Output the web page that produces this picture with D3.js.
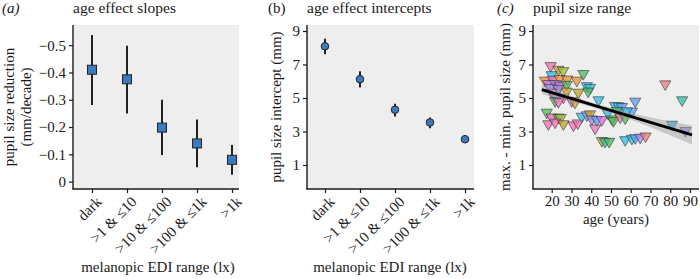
<!DOCTYPE html>
<html><head><meta charset="utf-8">
<script src="https://cdn.jsdelivr.net/npm/d3@7"></script>
<style>
html,body{margin:0;padding:0;background:#fff;}
svg text{font-family:"Liberation Serif","Times New Roman",serif;fill:#1a1a1a;}
</style></head>
<body><svg id="c" width="700" height="279"></svg>
<script>
// ---------- data ----------
const categories = ["dark", ">1 & \u226410", ">10 & \u2264100", ">100 & \u22641k", ">1k"];
const slopeEst = [-0.41, -0.375, -0.198, -0.14, -0.08];
const slopeLo  = [-0.537, -0.498, -0.30, -0.228, -0.134];
const slopeHi  = [-0.281, -0.25, -0.098, -0.053, -0.025];
const slopeTicks = [0, -0.1, -0.2, -0.3, -0.4, -0.5];

const interceptEst = [8.09, 6.12, 4.30, 3.54, 2.54];
const interceptLo  = [7.61, 5.63, 3.90, 3.20, 2.44];
const interceptHi  = [8.54, 6.60, 4.66, 3.84, 2.64];
const mmTicks = [1, 3, 5, 7, 9];

const ageTicks = [20, 30, 40, 50, 60, 70, 80, 90];
const ptAge = [19.5,23.4,25.8,20.0,16.6,20.5,24.0,27.8,32.7,36.0,18.3,21.7,24.2,27.6,19.1,23.4,20.0,21.7,25.9,27.6,33.5,37.8,39.4,38.5,21.7,23.4,30.1,31.8,43.7,52.1,53.8,55.5,62.3,60.6,58.0,53.0,17.5,20.0,23.4,24.5,18.3,21.7,25.9,31.0,33.2,35.2,37.8,39.4,40.3,42.0,42.8,45.4,48.4,50.5,51.3,54.7,57.2,45.4,47.0,49.1,57.2,60.6,62.3,64.8,67.5,77.5,86.0,80.9,87.7];
const ptRange = [6.92,6.70,6.62,6.38,6.05,6.10,6.15,6.12,6.05,6.45,5.85,5.85,5.75,5.80,5.62,5.55,5.33,5.13,5.04,5.40,5.33,5.72,5.62,5.40,4.83,4.78,4.83,4.74,4.88,4.54,4.52,4.48,4.80,4.20,4.22,4.24,4.14,3.85,3.85,3.82,3.45,3.55,3.45,3.38,3.50,3.90,3.98,4.04,3.74,3.20,3.70,3.70,4.10,3.74,3.64,3.85,3.80,2.45,2.40,2.40,2.50,2.58,2.62,2.65,2.72,5.83,4.88,3.42,3.05];
const ptGroup = ["pink","olive","ygreen","cyan","orange","pink","orange","orange","orange","green","magenta","purple","magenta","green","purple","purple","pink","purple","pink","olive","olive","cyan","cyan","green","green","pink","magenta","olive","cyan","cyan","cyan","blue","blue","blue","cyan","green","green","pink","green","ygreen","pink","pink","olive","pink","pink","cyan","purple","olive","purple","pink","blue","magenta","cyan","green","green","pink","green","olive","teal","green","cyan","cyan","blue","purple","red","red","teal","cyan","purple"];
const groupColours = {pink:"#F36FB4", olive:"#C9A227", ygreen:"#A6BE2E", cyan:"#28BDE6", orange:"#E9902F", green:"#4DBA57", magenta:"#DC6BEA", purple:"#9B8CF0", blue:"#5E9BF7", teal:"#2EC4A4", red:"#F07A83"};

const fitAge = [15, 91];
const fitVal = [5.5, 2.8];
const bandAge = [15, 30, 45, 60, 75, 91];
const bandLo  = [5.22, 4.80, 4.30, 3.70, 3.02, 2.22];
const bandHi  = [5.78, 5.14, 4.56, 4.10, 3.72, 3.36];

// ---------- layout ----------
const svg = d3.select("#c");
const topY = 25, bottomY = 189;
const bg = "#EEEEEE";
const ink = "#1a1a1a";
const fs = 15;

function panelBg(x0, x1){
  svg.append("rect").attr("x",x0).attr("y",topY).attr("width",x1-x0).attr("height",bottomY-topY).attr("fill",bg);
}
function axisLines(x0,x1){
  svg.append("line").attr("x1",x0).attr("x2",x0).attr("y1",topY).attr("y2",bottomY+0.5).attr("stroke",ink).attr("stroke-width",1.4);
  svg.append("line").attr("x1",x0-0.5).attr("x2",x1).attr("y1",bottomY).attr("y2",bottomY).attr("stroke",ink).attr("stroke-width",1.4);
}
function yAxis(x0, scale, ticks, fmt){
  const g = svg.append("g").attr("transform",`translate(${x0},0)`)
    .call(d3.axisLeft(scale).tickValues(ticks).tickSize(4).tickPadding(3).tickFormat(fmt));
  g.select(".domain").remove();
  g.selectAll("line").attr("stroke",ink).attr("stroke-width",1.2);
  g.selectAll("text").attr("font-size",fs).attr("font-family","Liberation Serif").attr("fill",ink);
}
function xAxisCat(scale){
  const g = svg.append("g").attr("transform",`translate(0,${bottomY})`)
    .call(d3.axisBottom(scale).tickSize(4).tickFormat(""));
  g.select(".domain").remove();
  g.selectAll("line").attr("stroke",ink).attr("stroke-width",1.2);
  svg.append("g").selectAll("text").data(categories).join("text")
    .attr("transform",d=>`translate(${scale(d)+3},${bottomY+6}) rotate(-45)`)
    .attr("text-anchor","end").attr("dy","0.72em").attr("font-size",fs).text(d=>d);
}
function title(x, lab, italic){
  svg.append("text").attr("x",x).attr("y",12.5).attr("font-size",fs)
    .attr("font-style",italic?"italic":"normal").text(lab);
}
function mainTitle(x, txt){
  svg.append("text").attr("x",x).attr("y",12.5).attr("font-size",15.5).text(txt);
}
function yTitle(x, y, txt){
  svg.append("text").attr("transform",`translate(${x},${y}) rotate(-90)`).attr("text-anchor","middle").attr("font-size",fs).text(txt);
}

// ---------- panel a ----------
{
  const x0 = 73, x1 = 239;
  panelBg(x0,x1);
  const x = d3.scalePoint().domain(categories).range([92,232]);
  const y = d3.scaleLinear().domain([0.027,-0.574]).range([bottomY,topY]);
  yAxis(x0, y, slopeTicks, d=> d===0 ? "0" : d3.format(".1f")(d).replace("-","\u2212"));
  xAxisCat(x);
  const g = svg.append("g");
  g.selectAll("line.e").data(categories).join("line")
    .attr("x1",d=>x(d)).attr("x2",d=>x(d))
    .attr("y1",(d,i)=>y(slopeLo[i])).attr("y2",(d,i)=>y(slopeHi[i]))
    .attr("stroke","#222").attr("stroke-width",2);
  g.selectAll("rect.p").data(categories).join("rect")
    .attr("x",d=>x(d)-4.5).attr("y",(d,i)=>y(slopeEst[i])-4.5)
    .attr("width",9).attr("height",9)
    .attr("fill","#3C7BBF").attr("stroke","#222").attr("stroke-width",1);
  axisLines(x0,x1);
  title(2, "(a)", true);
  mainTitle(x0, "age effect slopes");
  yTitle(14, 107, "pupil size reduction");
  yTitle(31, 107, "(mm/decade)");
  svg.append("text").attr("x",158).attr("y",272).attr("text-anchor","middle").attr("font-size",fs).text("melanopic EDI range (lx)");
}

// ---------- panel b ----------
{
  const x0 = 307, x1 = 474;
  panelBg(x0,x1);
  const x = d3.scalePoint().domain(categories).range([325,465]);
  const y = d3.scaleLinear().domain([1,9]).range([165,31]);
  yAxis(x0, y, mmTicks, d3.format("d"));
  xAxisCat(x);
  const g = svg.append("g");
  g.selectAll("line.e").data(categories).join("line")
    .attr("x1",d=>x(d)).attr("x2",d=>x(d))
    .attr("y1",(d,i)=>y(interceptLo[i])).attr("y2",(d,i)=>y(interceptHi[i]))
    .attr("stroke","#222").attr("stroke-width",2);
  g.selectAll("circle").data(categories).join("circle")
    .attr("cx",d=>x(d)).attr("cy",(d,i)=>y(interceptEst[i])).attr("r",3.8)
    .attr("fill","#3C7BBF").attr("stroke","#222").attr("stroke-width",1);
  axisLines(x0,x1);
  title(268, "(b)", false);
  mainTitle(x0, "age effect intercepts");
  yTitle(281, 107, "pupil size intercept (mm)");
  svg.append("text").attr("x",390).attr("y",272).attr("text-anchor","middle").attr("font-size",fs).text("melanopic EDI range (lx)");
}

// ---------- panel c ----------
{
  const x0 = 533, x1 = 699;
  panelBg(x0,x1);
  const x = d3.scaleLinear().domain([20,90]).range([551.7,690]);
  const y = d3.scaleLinear().domain([1,9]).range([165,31]);
  yAxis(x0, y, mmTicks, d3.format("d"));
  const gx = svg.append("g").attr("transform",`translate(0,${bottomY})`)
    .call(d3.axisBottom(x).tickValues(ageTicks).tickSize(4).tickPadding(2).tickFormat(d3.format("d")));
  gx.select(".domain").remove();
  gx.selectAll("line").attr("stroke",ink).attr("stroke-width",1.2);
  gx.selectAll("text").attr("font-size",fs).attr("font-family","Liberation Serif").attr("fill",ink);

  const pts = ptAge.map((a,i)=>({a, v:ptRange[i], g:ptGroup[i]}));
  const sym = d3.symbol().type(d3.symbolTriangle).size(54);
  svg.append("g").selectAll("path").data(pts).join("path")
    .attr("d",sym)
    .attr("transform",d=>`translate(${x(d.a)},${y(d.v)}) rotate(180)`)
    .attr("fill",d=>groupColours[d.g]).attr("fill-opacity",0.75)
    .attr("stroke","#3a3a3a").attr("stroke-opacity",0.8).attr("stroke-width",0.8);

  const band = bandAge.map((a,i)=>({a, lo:bandLo[i], hi:bandHi[i]}));
  svg.append("path").datum(band)
    .attr("d", d3.area().x(d=>x(d.a)).y0(d=>y(d.lo)).y1(d=>y(d.hi)).curve(d3.curveMonotoneX))
    .attr("fill","#999999").attr("fill-opacity",0.45);
  svg.append("path").datum(fitAge.map((a,i)=>({a, v:fitVal[i]})))
    .attr("d", d3.line().x(d=>x(d.a)).y(d=>y(d.v)))
    .attr("stroke","#000").attr("stroke-width",3).attr("fill","none");

  axisLines(x0,x1);
  title(497, "(c)", true);
  mainTitle(x0, "pupil size range");
  yTitle(510, 107, "max. - min. pupil size (mm)");
  svg.append("text").attr("x",616).attr("y",224).attr("text-anchor","middle").attr("font-size",fs).text("age (years)");
}
</script></body></html>
